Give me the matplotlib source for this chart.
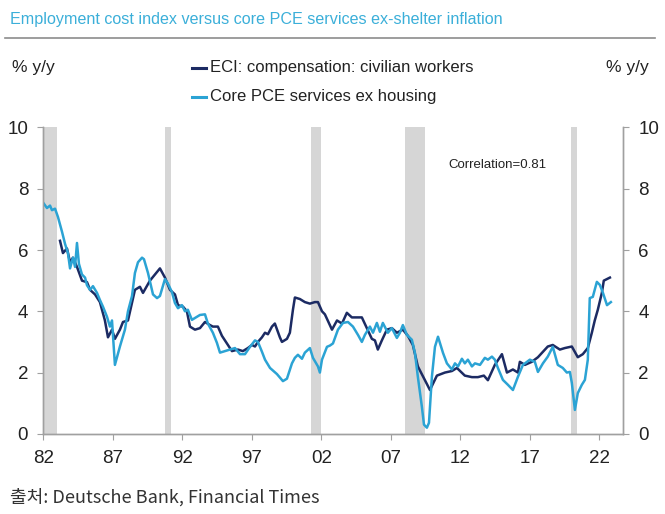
import matplotlib
matplotlib.use("Agg")
import matplotlib.pyplot as plt
from matplotlib.lines import Line2D

# ECI: compensation: civilian workers, % y/y
eci_years = [1983.19, 1983.40, 1983.69, 1983.91, 1984.12, 1984.41, 1984.77, 1985.13, 1985.35, 1985.71,
             1986.06, 1986.42, 1986.64, 1986.93, 1987.14, 1987.50, 1987.72, 1988.08, 1988.58, 1988.94,
             1989.16, 1989.66, 1990.02, 1990.38, 1990.74, 1991.10, 1991.46, 1991.68, 1992.04, 1992.32,
             1992.54, 1992.90, 1993.26, 1993.62, 1993.98, 1994.19, 1994.55, 1994.84, 1995.20, 1995.56,
             1995.99, 1996.35, 1996.71, 1997.00, 1997.22, 1997.43, 1997.72, 1997.94, 1998.15, 1998.44,
             1998.65, 1999.01, 1999.16, 1999.52, 1999.73, 1999.95, 2000.09, 2000.45, 2000.81, 2001.17,
             2001.53, 2001.75, 2002.04, 2002.25, 2002.76, 2003.12, 2003.48, 2003.83, 2004.19, 2004.55,
             2004.91, 2005.27, 2005.63, 2005.85, 2006.06, 2006.35, 2006.71, 2007.07, 2007.43, 2007.86,
             2008.22, 2008.58, 2008.94, 2009.45, 2009.81, 2010.31, 2010.89, 2011.39, 2011.75, 2012.32,
             2012.83, 2013.26, 2013.69, 2013.98, 2014.48, 2014.99, 2015.35, 2015.78, 2016.14, 2016.28,
             2016.64, 2017.14, 2017.58, 2018.29, 2018.65, 2019.16, 2019.52, 2020.02, 2020.45, 2020.81,
             2021.17, 2021.46, 2021.67, 2021.89, 2022.18, 2022.32, 2022.76]
eci_vals = [6.3, 5.9, 6.05, 5.6, 5.75, 5.45, 5.0, 4.95, 4.7, 4.55,
            4.3, 3.7, 3.15, 3.4, 3.1, 3.4, 3.65, 3.7, 4.7, 4.8,
            4.6, 5.0, 5.2, 5.4, 5.1, 4.7, 4.55, 4.2, 4.15, 4.0,
            3.5, 3.4, 3.45, 3.65, 3.55, 3.5, 3.5, 3.2, 2.95, 2.7,
            2.75, 2.7, 2.8, 2.9, 2.85, 3.0, 3.15, 3.3, 3.25, 3.5,
            3.6, 3.15, 3.0, 3.1, 3.3, 4.05, 4.45, 4.4, 4.3, 4.25,
            4.3, 4.3, 4.0, 3.9, 3.4, 3.7, 3.6, 3.95, 3.8, 3.8,
            3.8, 3.45, 3.1, 3.05, 2.75, 3.05, 3.4, 3.45, 3.3, 3.4,
            3.2, 2.9, 2.2, 1.75, 1.43, 1.9, 2.0, 2.05, 2.15, 1.9,
            1.85, 1.85, 1.9, 1.75, 2.25, 2.6, 2.0, 2.1, 2.0, 2.35,
            2.25, 2.35, 2.5, 2.85, 2.9, 2.75, 2.8, 2.85, 2.5, 2.6,
            2.8, 3.3, 3.7, 4.05, 4.6, 5.0, 5.1]

# Core PCE services ex housing, % y/y
pce_years = [1982.00, 1982.25, 1982.47, 1982.61, 1982.83, 1983.04, 1983.33, 1983.55, 1983.76, 1983.91,
             1984.12, 1984.27, 1984.41, 1984.55, 1984.77, 1984.99, 1985.13, 1985.35, 1985.56, 1985.85,
             1986.06, 1986.28, 1986.57, 1986.78, 1986.93, 1987.14, 1987.50, 1987.86, 1988.08, 1988.37,
             1988.58, 1988.80, 1989.09, 1989.23, 1989.52, 1989.88, 1990.17, 1990.38, 1990.74, 1990.96,
             1991.24, 1991.46, 1991.68, 1991.96, 1992.18, 1992.39, 1992.68, 1992.90, 1993.26, 1993.62,
             1993.83, 1994.19, 1994.48, 1994.70, 1995.06, 1995.42, 1995.78, 1996.14, 1996.50, 1996.86,
             1997.22, 1997.43, 1997.72, 1997.94, 1998.30, 1998.80, 1999.23, 1999.52, 1999.88, 2000.09,
             2000.31, 2000.60, 2000.81, 2001.17, 2001.39, 2001.75, 2001.89, 2002.04, 2002.40, 2002.61,
             2002.83, 2003.19, 2003.55, 2003.91, 2004.27, 2004.63, 2004.91, 2005.13, 2005.49, 2005.71,
             2005.99, 2006.21, 2006.42, 2006.78, 2007.07, 2007.43, 2007.65, 2007.86, 2008.15, 2008.51,
             2008.73, 2008.94, 2009.23, 2009.38, 2009.59, 2009.74, 2009.95, 2010.17, 2010.39, 2010.75,
             2011.03, 2011.39, 2011.61, 2011.83, 2012.11, 2012.32, 2012.54, 2012.83, 2013.05, 2013.41,
             2013.76, 2013.98, 2014.27, 2014.48, 2014.70, 2015.06, 2015.42, 2015.78, 2016.14, 2016.50,
             2017.00, 2017.36, 2017.58, 2017.94, 2018.29, 2018.65, 2019.01, 2019.37, 2019.66, 2019.88,
             2020.02, 2020.24, 2020.45, 2020.74, 2020.96, 2021.17, 2021.31, 2021.53, 2021.82, 2022.04,
             2022.26, 2022.55, 2022.83]
pce_vals = [7.53, 7.37, 7.45, 7.3, 7.35, 7.08, 6.6, 6.2, 5.9, 5.4,
            5.75, 5.45, 6.23, 5.55, 5.2, 5.1, 4.85, 4.7, 4.82, 4.6,
            4.37, 4.15, 3.82, 3.5, 3.7, 2.25, 2.85, 3.4, 4.0, 4.5,
            5.25, 5.6, 5.75, 5.7, 5.25, 4.55, 4.43, 4.5, 5.05, 4.9,
            4.63, 4.27, 4.1, 4.2, 4.0, 4.05, 3.72, 3.78, 3.88, 3.9,
            3.6, 3.3, 2.97, 2.65, 2.7, 2.75, 2.8, 2.6, 2.6, 2.84,
            3.05, 3.0, 2.68, 2.42, 2.15, 1.95, 1.72, 1.8, 2.3, 2.48,
            2.58, 2.45, 2.65, 2.8, 2.48, 2.2, 2.0, 2.42, 2.84, 2.88,
            2.95, 3.4, 3.62, 3.65, 3.5, 3.23, 3.0, 3.23, 3.5, 3.3,
            3.62, 3.33, 3.62, 3.3, 3.45, 3.13, 3.3, 3.55, 3.23, 3.07,
            2.64, 1.86, 0.88, 0.3, 0.2, 0.36, 1.86, 2.84, 3.17, 2.64,
            2.3, 2.1, 2.3, 2.2, 2.45, 2.3, 2.42, 2.2, 2.3, 2.25,
            2.48, 2.42, 2.52, 2.42, 2.15, 1.76, 1.6, 1.43, 1.86, 2.25,
            2.42, 2.35, 2.02, 2.3, 2.52, 2.84, 2.25, 2.15, 2.0, 2.02,
            1.66, 0.78, 1.33, 1.6, 1.76, 2.42, 4.43, 4.47, 4.96, 4.86,
            4.6, 4.2, 4.3]

# US recessions (shaded)
rec_start = [1981.55, 1990.75, 2001.25, 2007.98, 2019.95]
rec_end = [1982.95, 1991.2, 2001.95, 2009.45, 2020.38]

tick_years = [1982, 1987, 1992, 1997, 2002, 2007, 2012, 2017, 2022]
tick_labels = ["82", "87", "92", "97", "02", "07", "12", "17", "22"]

dark = "#1c2b63"
light = "#2ba3d4"
grey_txt = "#222222"

plt.rcParams['font.family'] = ["Liberation Sans", "DejaVu Sans"]

fig = plt.figure(figsize=(6.65, 5.14), dpi=100)
ax = fig.add_axes([0.0654, 0.156, 0.8714, 0.596])

for s, e in zip(rec_start, rec_end):
    ax.axvspan(s, e, color="#d6d6d6", lw=0, zorder=0)

ax.plot(pce_years, pce_vals, color=light, lw=1.8, zorder=3)
ax.plot(eci_years, eci_vals, color=dark, lw=1.8, zorder=2)

ax.set_xlim(1982.0, 2023.7)
ax.set_ylim(0, 10)
ax.set_xticks(tick_years)
ax.set_xticklabels(tick_labels)
ax.set_yticks(range(0, 11, 2))

ax2 = ax.twinx()
ax2.set_ylim(0, 10)
ax2.set_yticks(range(0, 11, 2))

for a in (ax, ax2):
    a.spines['top'].set_visible(False)
    for sp in ('left', 'right', 'bottom'):
        a.spines[sp].set_color("#a0a0a0")
        a.spines[sp].set_linewidth(1.0)
    a.tick_params(colors="#a0a0a0", labelcolor=grey_txt, labelsize=13.5, length=4, width=0.8)
ax.tick_params(axis='y', pad=7)
ax2.tick_params(axis='y', pad=7)
ax.tick_params(axis='x', pad=8)

fig.text(0.748, 0.679, "Correlation=0.81", ha="center", va="center", fontsize=9.5, color=grey_txt)

# title and rule
fig.text(0.015, 0.962, "Employment cost index versus core PCE services ex-shelter inflation",
         ha="left", va="center", fontsize=11.6, color="#3bafd9")
fig.add_artist(Line2D([0.008, 0.985], [0.926, 0.926], color="#8c8c8c", lw=1.2))

fig.text(0.018, 0.868, "% y/y", ha="left", va="center", fontsize=12.5, color=grey_txt)
fig.text(0.975, 0.868, "% y/y", ha="right", va="center", fontsize=12.5, color=grey_txt)

# legend
fig.add_artist(Line2D([0.289, 0.31], [0.868, 0.868], color=dark, lw=2.2))
fig.text(0.316, 0.868, "ECI: compensation: civilian workers", ha="left", va="center",
         fontsize=12, color=grey_txt)
fig.add_artist(Line2D([0.289, 0.31], [0.812, 0.812], color=light, lw=2.2))
fig.text(0.316, 0.812, "Core PCE services ex housing", ha="left", va="center",
         fontsize=12, color=grey_txt)

fig.text(0.015, 0.032, "출처: Deutsche Bank, Financial Times", ha="left", va="center",
         fontsize=13, color="#333333", family=["Noto Sans CJK KR", "DejaVu Sans"])

fig.savefig("out.png", dpi=100)
